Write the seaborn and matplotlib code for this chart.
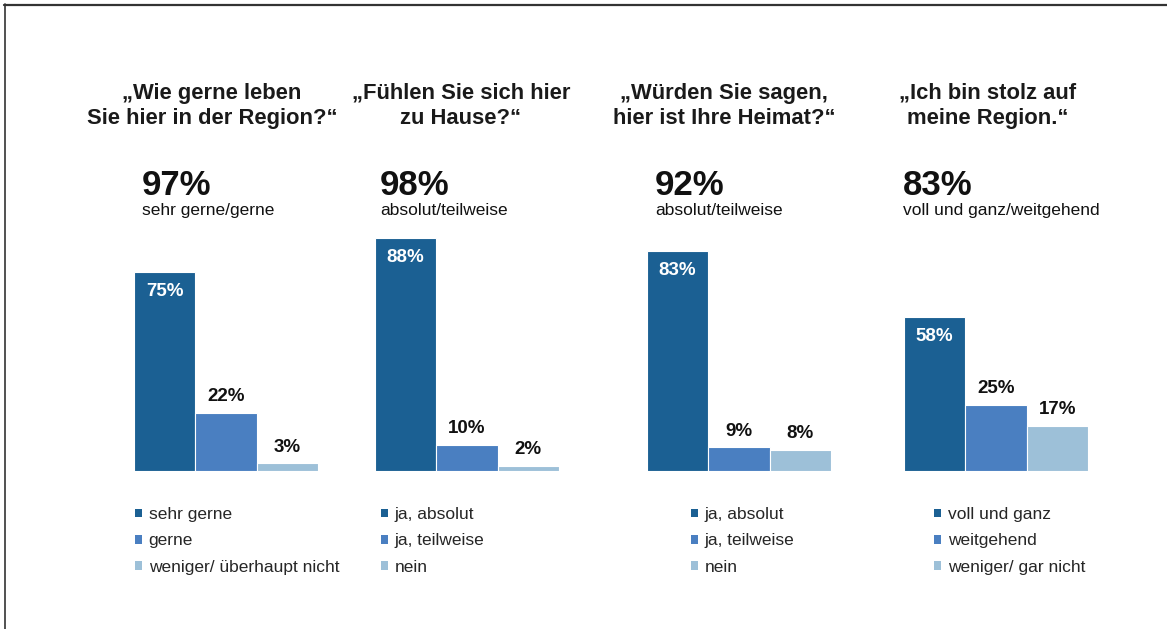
import matplotlib
matplotlib.use("Agg")
import matplotlib.pyplot as plt
import seaborn as sns
import pandas as pd
from matplotlib.patches import Patch
from matplotlib.lines import Line2D

# ---- data ----
titles = ["„Wie gerne leben\nSie hier in der Region?“",
          "„Fühlen Sie sich hier\nzu Hause?“",
          "„Würden Sie sagen,\nhier ist Ihre Heimat?“",
          "„Ich bin stolz auf\nmeine Region.“"]
totals = ["97%", "98%", "92%", "83%"]
subtitles = ["sehr gerne/gerne", "absolut/teilweise", "absolut/teilweise",
             "voll und ganz/weitgehend"]
categories = [["sehr gerne", "gerne", "weniger/ überhaupt nicht"],
              ["ja, absolut", "ja, teilweise", "nein"],
              ["ja, absolut", "ja, teilweise", "nein"],
              ["voll und ganz", "weitgehend", "weniger/ gar nicht"]]
values = [[75, 22, 3], [88, 10, 2], [83, 9, 8], [58, 25, 17]]
colors = ["#1B6093", "#4A7FC1", "#9DC0D8"]

# ---- layout (pixels) ----
W, H = 1167, 629
bar_lefts = [134, 375, 647, 904]
panel_w = 184
baseline = 471
axis_h = 265  # 100% height
title_cx = [212, 461, 724, 988]
total_x = [142, 380, 655, 903]
legend_x = [135, 381, 691, 934]

def fx(x):
    return x / W

def fy(y):
    return 1 - y / H

sns.set_style("white")
plt.rcParams["font.family"] = ["Liberation Sans", "DejaVu Sans"]

fig = plt.figure(figsize=(W / 100, H / 100), dpi=100)
fig.patch.set_facecolor("white")

for p in range(4):
    ax = fig.add_axes([fx(bar_lefts[p]), fy(baseline), panel_w / W, axis_h / H])
    df = pd.DataFrame({"cat": categories[p], "val": values[p]})
    sns.barplot(data=df, x="cat", y="val", hue="cat", palette=colors,
                order=categories[p], hue_order=categories[p], saturation=1,
                width=1.0, dodge=False, legend=False, ax=ax,
                edgecolor="white", linewidth=0.8)
    ax.set_ylim(0, 100)
    ax.set_xlim(-0.5, 2.5)
    ax.set_xlabel("")
    ax.set_ylabel("")
    ax.set_xticks([])
    ax.set_yticks([])
    sns.despine(ax=ax, left=True, bottom=True)
    ax.patch.set_alpha(0)
    for i, v in enumerate(values[p]):
        if i == 0:
            ax.annotate(f"{v}%", xy=(i, v), xytext=(0, -14), textcoords="offset points",
                        ha="center", va="center", color="white", fontsize=13.5,
                        fontweight="bold")
        else:
            ax.annotate(f"{v}%", xy=(i, v), xytext=(0, 11.5), textcoords="offset points",
                        ha="center", va="center", color="#111111", fontsize=13.5,
                        fontweight="bold")

    fig.text(fx(title_cx[p]), fy(106), titles[p], ha="center", va="center",
             fontsize=15.8, fontweight="bold", color="#1a1a1a", linespacing=1.25)
    fig.text(fx(total_x[p]), fy(185), totals[p], ha="left", va="center",
             fontsize=25, fontweight="bold", color="#111111")
    fig.text(fx(total_x[p]), fy(211), subtitles[p], ha="left", va="center",
             fontsize=12.5, color="#111111")

    handles = [Patch(facecolor=c, edgecolor="none") for c in colors]
    fig.legend(handles, categories[p], loc="center left",
               bbox_to_anchor=(fx(legend_x[p]), fy(541)), frameon=False,
               handlelength=0.38, handleheight=0.38, handletextpad=0.4,
               labelspacing=0.66, fontsize=12.5, borderpad=0, borderaxespad=0)

# frame lines
fig.add_artist(Line2D([fx(4), 1.0], [fy(4.5), fy(4.5)], color="#333333", lw=1.6))
fig.add_artist(Line2D([fx(4.5), fx(4.5)], [fy(4), 0.0], color="#333333", lw=1.2))

fig.savefig("out.png", dpi=100, facecolor="white")
